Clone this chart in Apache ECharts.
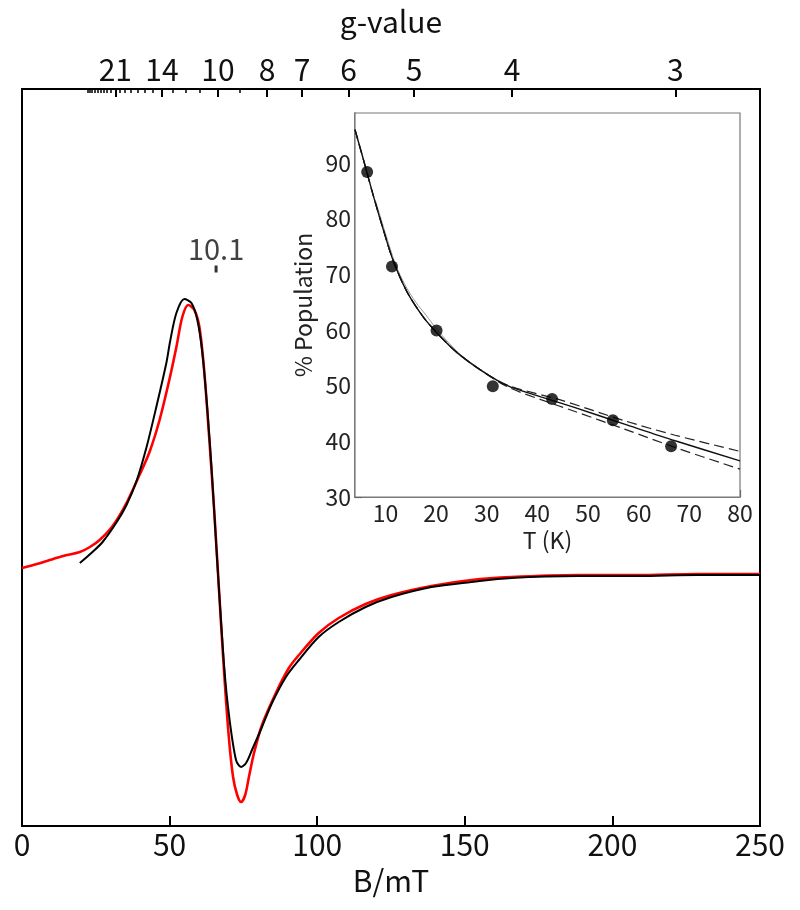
<!DOCTYPE html>
<html>
<head>
<meta charset="utf-8">
<title>EPR spectrum</title>
<script src="https://cdn.jsdelivr.net/npm/echarts@6/dist/echarts.min.js"></script>
<style>
  html, body { margin: 0; padding: 0; background: #fff; }
  #chart { width: 800px; height: 910px; }
</style>
</head>
<body>
<div id="chart"></div>
<script>
'use strict';

// h*nu/muB in mT, B = HNU / g
var HNU = 664;

// red: measured spectrum (B in mT, derivative signal, arbitrary units)
var expB = [0, 5, 9.4, 14, 19.6, 23, 26.3, 30.7, 35.4, 39.8, 43.2, 46.6, 49.9, 52.3, 54.3, 56.3, 58.4, 60.1, 61.7, 63.4, 65.1, 66.8, 68.3, 70.0, 71.5, 72.9, 74.2, 75.6, 77.0, 78.6, 81.3, 86.0, 90.4, 93.8, 100.5, 107.3, 116.4, 125.2, 138.7, 152.2, 165.7, 188.3, 208.5, 228.8, 250];
var expY = [7, 11, 15, 19, 23, 28, 35, 49, 72, 100, 123, 155, 195, 228, 258, 270, 265, 248, 205, 138, 65, -18, -90, -160, -202, -220, -227, -220, -200, -178, -150, -118, -93, -80, -58, -43, -29, -20, -11, -5, -2, 0, 0, 1, 1];

// black: simulation
var simB = [19.6, 23.5, 27.3, 32.1, 35.4, 38.8, 42.2, 45.5, 48.9, 50.2, 52.3, 55.0, 57.4, 59.4, 61.1, 62.8, 64.4, 66.1, 68.5, 70.2, 72.5, 74.2, 75.9, 77.9, 81.3, 84.7, 89.4, 93.8, 100.5, 107.3, 116.4, 125.2, 138.7, 152.2, 165.7, 188.3, 208.5, 228.8, 250];
var simY = [12, 22, 33, 53, 70, 94, 128, 168, 212, 234, 262, 276, 272, 255, 222, 165, 98, 15, -92, -142, -185, -192, -188, -175, -152, -128, -102, -85, -62, -47, -32, -22, -12, -7, -3, -1, -1, 0, 0];

// g-value axis
var gMajor = [21, 14, 10, 8, 7, 6, 5, 4, 3];
var gMinor = [30, 29, 28, 27, 26, 25, 24, 23, 22, 20, 19, 18, 17, 16, 15, 13, 12, 11, 9];
var gMark = 10.1;

// inset: population vs temperature
var popT = [6.4, 11.3, 20.1, 31.2, 42.9, 54.9, 66.4];
var popP = [88.4, 71.4, 59.9, 49.9, 47.6, 43.8, 39.1];

var fitT = [4, 5.7, 7.6, 9.6, 11.6, 14.3, 17.6, 20.9, 24.2, 28.8, 34.1, 40.7, 47.3, 57.2, 67.2, 80];
var fitP = [96.0, 90.5, 84.2, 78.0, 72.3, 66.8, 62.2, 58.8, 55.9, 52.8, 50.0, 48.0, 46.1, 43.1, 40.1, 36.5];
var upT = [4, 5.7, 7.6, 9.6, 11.6, 14.3, 17.6, 20.9, 24.2, 28.8, 34.1, 44.7, 57.2, 67.2, 80];
var upP = [96.0, 90.5, 84.2, 78.0, 72.3, 66.8, 62.2, 58.8, 55.9, 52.8, 50.1, 47.4, 43.7, 41.1, 38.2];
var loT = [4, 5.7, 7.6, 9.6, 11.6, 14.3, 17.6, 20.9, 24.2, 28.8, 34.1, 40.7, 47.3, 57.2, 67.2, 80];
var loP = [96.0, 90.5, 84.2, 78.0, 72.3, 66.8, 62.2, 58.8, 55.9, 52.8, 49.8, 47.5, 45.4, 42.2, 38.9, 35.0];
var grayT = [8, 10, 12, 14, 16, 18, 20, 22, 25, 28, 32];
var grayP = [83.4, 77.4, 71.8, 67.9, 65.0, 62.7, 60.3, 58.2, 55.4, 53.4, 51.0];

var FONT = '"Noto Sans CJK KR", "Noto Sans", sans-serif';

function zip(xs, ys) {
    var out = [];
    for (var i = 0; i < xs.length; i++) {
        out.push([xs[i], ys[i]]);
    }
    return out;
}

function toB(list) {
    return list.map(function (g) { return HNU / g; });
}

var myChart = echarts.init(document.getElementById('chart'));

var option = {
    backgroundColor: '#fff',
    animation: false,
    textStyle: { fontFamily: FONT },
    grid: [
        { left: 22, right: 40, top: 89, bottom: 84, show: true, borderColor: '#000', borderWidth: 2 },
        { left: 355, right: 60, top: 113, bottom: 413, show: true, borderColor: '#777', borderWidth: 1.2, backgroundColor: '#fff', z: 5 }
    ],
    xAxis: [
        {
            gridIndex: 0, type: 'value', position: 'bottom', min: 0, max: 250, interval: 50,
            name: 'B/mT', nameLocation: 'middle', nameGap: 40,
            nameTextStyle: { fontSize: 30, color: '#111', fontFamily: FONT },
            axisLine: { onZero: false, lineStyle: { color: '#000', width: 2 } },
            axisTick: { inside: true, length: 10, lineStyle: { color: '#000', width: 2 } },
            axisLabel: { fontSize: 30, color: '#111', margin: 4, fontFamily: FONT },
            splitLine: { show: false }
        },
        {
            gridIndex: 0, type: 'value', position: 'top', min: 0, max: 250,
            name: 'g-value', nameLocation: 'middle', nameGap: 52,
            nameTextStyle: { fontSize: 30, color: '#111', fontFamily: FONT },
            axisLine: { onZero: false, lineStyle: { color: '#000', width: 2 } },
            axisTick: { inside: true, length: 8, customValues: toB(gMajor), lineStyle: { color: '#000', width: 2 } },
            axisLabel: {
                fontSize: 30, color: '#111', margin: 4, fontFamily: FONT,
                customValues: toB(gMajor),
                formatter: function (v) { return String(Math.round(HNU / v)); }
            },
            splitLine: { show: false }
        },
        {
            gridIndex: 0, type: 'value', position: 'top', min: 0, max: 250,
            axisLine: { show: false, onZero: false },
            axisTick: { inside: true, length: 4, customValues: toB(gMinor), lineStyle: { color: '#000', width: 1.5 } },
            axisLabel: { show: false },
            splitLine: { show: false }
        },
        {
            gridIndex: 1, type: 'value', min: 4, max: 80,
            name: 'T (K)', nameLocation: 'middle', nameGap: 32,
            nameTextStyle: { fontSize: 23, color: '#222', fontFamily: FONT },
            axisLine: { onZero: false, lineStyle: { color: '#555', width: 1.5 } },
            axisTick: { inside: true, length: 7, customValues: [10, 20, 30, 40, 50, 60, 70, 80], lineStyle: { color: '#555', width: 1.2 } },
            axisLabel: { fontSize: 23, color: '#222', margin: 5, fontFamily: FONT, customValues: [10, 20, 30, 40, 50, 60, 70, 80] },
            splitLine: { show: false }
        }
    ],
    yAxis: [
        {
            gridIndex: 0, type: 'value', min: -251, max: 486,
            axisLine: { show: true, onZero: false, lineStyle: { color: '#000', width: 2 } },
            axisTick: { show: false },
            axisLabel: { show: false },
            splitLine: { show: false }
        },
        {
            gridIndex: 1, type: 'value', min: 30, max: 99,
            name: '% Population', nameLocation: 'middle', nameGap: 40, nameRotate: 90,
            nameTextStyle: { fontSize: 23, color: '#222', fontFamily: FONT },
            axisLine: { onZero: false, lineStyle: { color: '#555', width: 1.5 } },
            axisTick: { inside: true, length: 7, customValues: [30, 40, 50, 60, 70, 80, 90], lineStyle: { color: '#555', width: 1.2 } },
            axisLabel: { fontSize: 23, color: '#222', margin: 4, fontFamily: FONT, customValues: [30, 40, 50, 60, 70, 80, 90] },
            splitLine: { show: false }
        }
    ],
    series: [
        {
            name: 'experiment', type: 'line', xAxisIndex: 0, yAxisIndex: 0,
            data: zip(expB, expY), showSymbol: false, smooth: 0.3,
            lineStyle: { color: '#f00', width: 2.6 }
        },
        {
            name: 'simulation', type: 'line', xAxisIndex: 0, yAxisIndex: 0,
            data: zip(simB, simY), showSymbol: false, smooth: 0.3,
            lineStyle: { color: '#000', width: 2 }
        },
        {
            name: 'g marker', type: 'scatter', xAxisIndex: 0, yAxisIndex: 0,
            data: [[HNU / gMark, 306]],
            symbol: 'rect', symbolSize: [3, 7],
            itemStyle: { color: '#000' },
            label: {
                show: true, position: 'top', distance: 2,
                formatter: String(gMark), fontSize: 29, color: '#111', fontFamily: FONT
            }
        },
        {
            name: 'gray', type: 'line', xAxisIndex: 3, yAxisIndex: 1, z: 6,
            data: zip(grayT, grayP), showSymbol: false, smooth: 0.3,
            lineStyle: { color: '#999', width: 1 }
        },
        {
            name: 'upper', type: 'line', xAxisIndex: 3, yAxisIndex: 1, z: 6,
            data: zip(upT, upP), showSymbol: false, smooth: 0.3,
            lineStyle: { color: '#222', width: 1.2, type: [10, 5] }
        },
        {
            name: 'lower', type: 'line', xAxisIndex: 3, yAxisIndex: 1, z: 6,
            data: zip(loT, loP), showSymbol: false, smooth: 0.3,
            lineStyle: { color: '#222', width: 1.2, type: [10, 5] }
        },
        {
            name: 'fit', type: 'line', xAxisIndex: 3, yAxisIndex: 1, z: 6,
            data: zip(fitT, fitP), showSymbol: false, smooth: 0.3,
            lineStyle: { color: '#111', width: 1.4 }
        },
        {
            name: 'population', type: 'scatter', xAxisIndex: 3, yAxisIndex: 1, z: 7,
            data: zip(popT, popP), symbolSize: 12,
            itemStyle: { color: '#000' }
        }
    ]
};

myChart.setOption(option);
</script>
</body>
</html>
